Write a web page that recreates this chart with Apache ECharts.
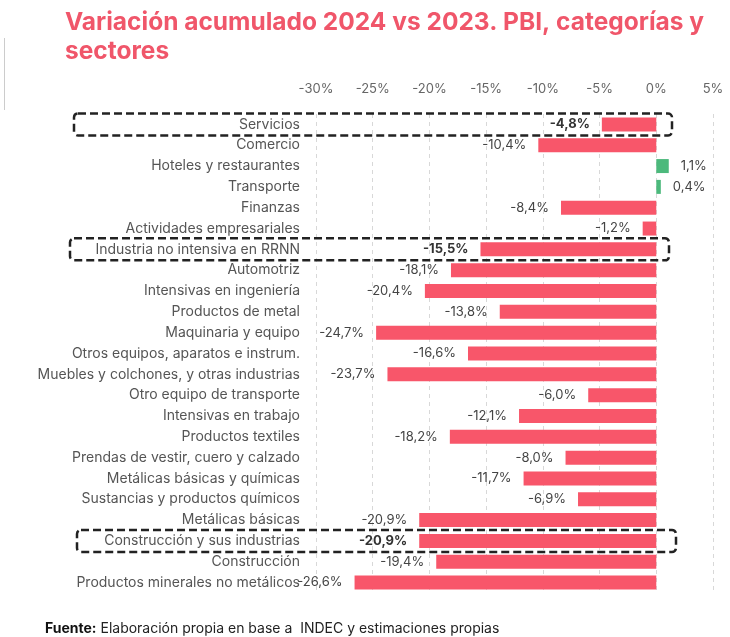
<!DOCTYPE html>
<html>
<head>
<meta charset="utf-8">
<script src="https://cdn.jsdelivr.net/npm/echarts@6/dist/echarts.min.js"></script>
<style>html,body{margin:0;padding:0;background:#fff;}#c{width:730px;height:637px;}</style>
</head>
<body>
<div id="c"></div>
<script>
const categories = [
  'Servicios','Comercio','Hoteles y restaurantes','Transporte','Finanzas','Actividades empresariales',
  'Industria no intensiva en RRNN','Automotriz','Intensivas en ingeniería','Productos de metal',
  'Maquinaria y equipo','Otros equipos, aparatos e instrum.','Muebles y colchones, y otras industrias',
  'Otro equipo de transporte','Intensivas en trabajo','Productos textiles','Prendas de vestir, cuero y calzado',
  'Metálicas básicas y químicas','Sustancias y productos químicos','Metálicas básicas',
  'Construcción y sus industrias','Construcción','Productos minerales no metálicos'
];
const values = [-4.8,-10.4,1.1,0.4,-8.4,-1.2,-15.5,-18.1,-20.4,-13.8,-24.7,-16.6,-23.7,-6.0,-12.1,-18.2,-8.0,-11.7,-6.9,-20.9,-20.9,-19.4,-26.6];
const highlighted = ['Servicios','Industria no intensiva en RRNN','Construcción y sus industrias'];
const xTicks = [-30,-25,-20,-15,-10,-5,0,5];

const FONT = 'Inter';
const RED = '#F8566A';
const GREEN = '#4CB97C';
const fmt = v => v.toFixed(1).replace('.', ',') + '%';

const data = values.map((v, i) => {
  const hl = highlighted.includes(categories[i]);
  return {
    value: v,
    itemStyle: { color: v >= 0 ? GREEN : RED },
    label: {
      position: v >= 0 ? 'right' : 'left',
      fontWeight: hl ? 'bold' : 'normal',
      color: hl ? '#333' : '#444'
    }
  };
});

const chart = echarts.init(document.getElementById('c'));
chart.setOption({
  animation: false,
  backgroundColor: '#fff',
  title: [{
    text: 'Variación acumulado 2024 vs 2023. PBI, categorías y\nsectores',
    left: 60, top: 3,
    textStyle: { fontFamily: FONT, fontSize: 24.5, fontWeight: 'bold', color: '#F0566A', lineHeight: 29 }
  }, {
    text: '{b|Fuente:} Elaboración propia en base a  INDEC y estimaciones propias',
    left: 40, top: 617,
    textStyle: { fontFamily: FONT, fontSize: 14, fontWeight: 'normal', color: '#222',
      rich: { b: { fontFamily: FONT, fontSize: 14, fontWeight: 'bold', color: '#111' } } }
  }],
  grid: { left: 316, right: 17, top: 114, bottom: 44, containLabel: false },
  xAxis: {
    type: 'value', position: 'top', min: -30, max: 5, interval: 5,
    axisLine: { show: false }, axisTick: { show: false },
    axisLabel: { fontFamily: FONT, fontSize: 13, color: '#666', margin: 18,
      formatter: v => xTicks.includes(v) ? v + '%' : '' },
    splitLine: { show: true, lineStyle: { color: '#d8d8d8', type: [4, 4], width: 1 } }
  },
  yAxis: {
    type: 'category', data: categories, inverse: true,
    axisLine: { show: false }, axisTick: { show: false },
    axisLabel: { fontFamily: FONT, fontSize: 14, color: '#555', margin: 16 }
  },
  series: [{
    type: 'bar', data: data, barWidth: 14,
    label: { show: true, fontFamily: FONT, fontSize: 13, distance: 12, formatter: p => fmt(p.value) }
  }],
  graphic: []
});

function boxes() {
  const spec = [
    { cat: 'Servicios', x1: 74, x2: 672 },
    { cat: 'Industria no intensiva en RRNN', x1: 70, x2: 669 },
    { cat: 'Construcción y sus industrias', x1: 77, x2: 676 }
  ];
  const g = spec.map(s => {
    const y = chart.convertToPixel({ yAxisIndex: 0 }, s.cat);
    return {
      type: 'rect', z: 100,
      shape: { x: s.x1, y: y - 11, width: s.x2 - s.x1, height: 22, r: 4 },
      style: { fill: 'none', stroke: '#222', lineWidth: 2.5, lineDash: [8, 4] }
    };
  });
  g.push({ type: 'line', shape: { x1: 4.5, y1: 38, x2: 4.5, y2: 110 }, style: { stroke: '#ccc', lineWidth: 1 } });
  chart.setOption({ graphic: g });
}
boxes();
</script>
</body>
</html>
